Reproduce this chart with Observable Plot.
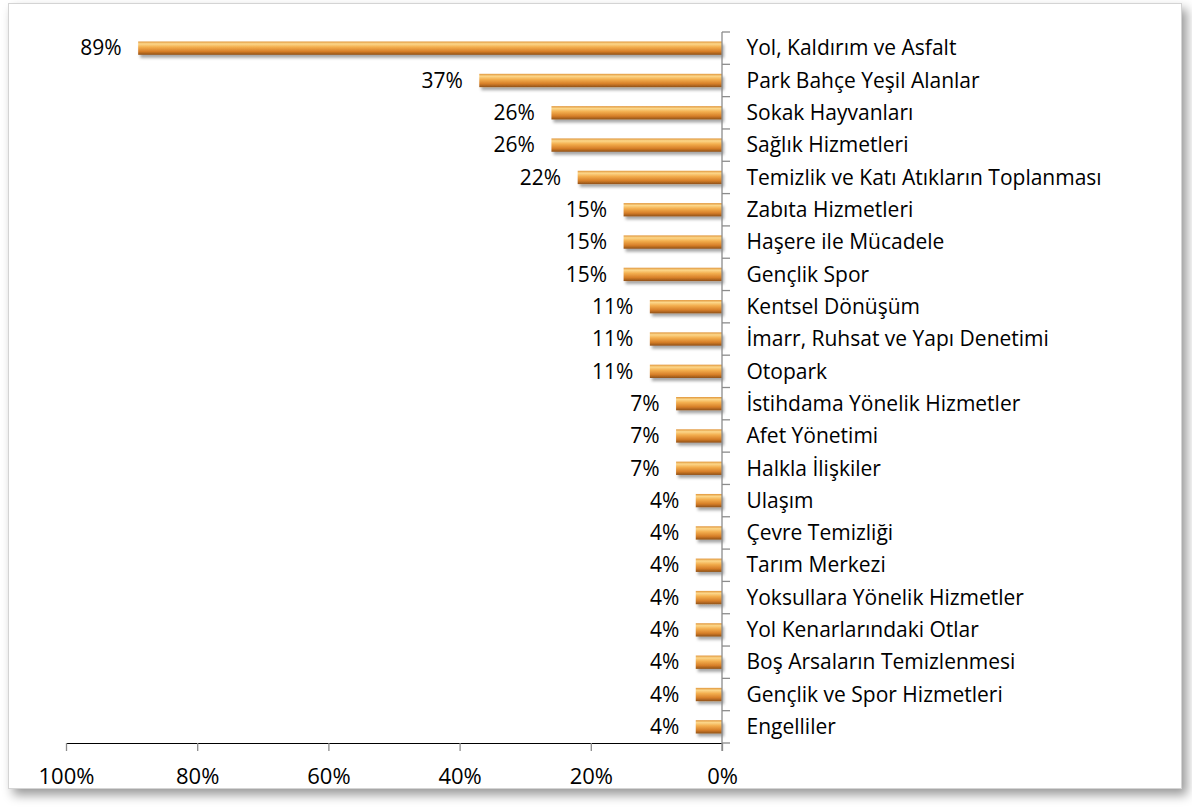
<!DOCTYPE html>
<html>
<head>
<meta charset="utf-8">
<script src="https://cdn.jsdelivr.net/npm/d3@7"></script>
<script src="https://cdn.jsdelivr.net/npm/@observablehq/plot@0.6"></script>
<style>
  html, body { margin: 0; padding: 0; background: #ffffff; }
  body { width: 1192px; height: 807px; position: relative; overflow: hidden; }
  #frame { position: absolute; left: 8px; top: 3px; width: 1172px; height: 784px;
           border: 1px solid #d4d4d4; background: #fff;
           box-shadow: 5px 6px 10px rgba(0,0,0,0.4); }
  #chart { position: absolute; left: 0; top: 0; }
</style>
</head>
<body>
<div id="frame"></div>
<div id="chart"></div>
<script>
const categories = [
  "Yol, Kaldırım ve Asfalt",
  "Park Bahçe Yeşil Alanlar",
  "Sokak Hayvanları",
  "Sağlık Hizmetleri",
  "Temizlik ve Katı Atıkların Toplanması",
  "Zabıta Hizmetleri",
  "Haşere ile Mücadele",
  "Gençlik Spor",
  "Kentsel Dönüşüm",
  "İmarr, Ruhsat ve Yapı Denetimi",
  "Otopark",
  "İstihdama Yönelik Hizmetler",
  "Afet Yönetimi",
  "Halkla İlişkiler",
  "Ulaşım",
  "Çevre Temizliği",
  "Tarım Merkezi",
  "Yoksullara Yönelik Hizmetler",
  "Yol Kenarlarındaki Otlar",
  "Boş Arsaların Temizlenmesi",
  "Gençlik ve Spor Hizmetleri",
  "Engelliler"
];
const values = [89, 37, 26, 26, 22, 15, 15, 15, 11, 11, 11, 7, 7, 7, 4, 4, 4, 4, 4, 4, 4, 4];
const xTicks = [0, 20, 40, 60, 80, 100];

const data = categories.map((c, i) => ({category: c, value: values[i]}));

const W = 1192, H = 807;
const mTop = 32, mBottom = 64, mLeft = 66, mRight = 470;

// vertical axis line and category boundary tick marks on its right side
function boundaryTicks(index, scales, vals, dims) {
  const g = d3.create("svg:g");
  const n = categories.length;
  const step = (dims.height - dims.marginTop - dims.marginBottom) / n;
  const x0 = scales.x(0);
  g.append("line")
    .attr("x1", x0).attr("x2", x0)
    .attr("y1", dims.marginTop).attr("y2", dims.height - dims.marginBottom + 8)
    .attr("stroke", "#8c8c8c").attr("stroke-width", 1.3);
  for (let i = 0; i <= n; i++) {
    const y = dims.marginTop + i * step;
    g.append("line")
      .attr("x1", x0).attr("x2", x0 + 8)
      .attr("y1", y).attr("y2", y)
      .attr("stroke", "#8c8c8c").attr("stroke-width", 1.3);
  }
  return g.node();
}

const chart = Plot.plot({
  width: W,
  height: H,
  marginTop: mTop,
  marginBottom: mBottom,
  marginLeft: mLeft,
  marginRight: mRight,
  style: {fontFamily: "'Open Sans', 'Noto Sans', sans-serif", fontSize: "21px", color: "#000", background: "transparent"},
  x: {domain: [100, 0], ticks: xTicks, tickFormat: d => d + "%", tickSize: 8, tickPadding: 17, line: true, label: null},
  y: {domain: categories, padding: 0, round: false, axis: "right", tickSize: 0, tickPadding: 24, label: null},
  marks: [
    Plot.barX(data, {
      x1: 0, x2: "value", y: "category",
      insetTop: 9.5, insetBottom: 9.5,
      fill: "url(#barGrad)"
    }),
    Plot.text(data, {
      x: "value", y: "category", text: d => d.value + "%",
      textAnchor: "end", dx: -17, fill: "#000", fontSize: 21
    }),
    boundaryTicks
  ]
});

// gradient + shadow definitions
const svg = d3.select(chart);
const defs = svg.insert("defs", ":first-child");
const grad = defs.append("linearGradient")
  .attr("id", "barGrad").attr("x1", 0).attr("y1", 0).attr("x2", 0).attr("y2", 1);
[[0, "#e0953a"], [0.18, "#fcd78a"], [0.42, "#f3ae4e"], [0.75, "#d67e28"], [1, "#8f5118"]]
  .forEach(([o, c]) => grad.append("stop").attr("offset", o).attr("stop-color", c));
const flt = defs.append("filter").attr("id", "barShadow")
  .attr("x", "-10%").attr("y", "-40%").attr("width", "130%").attr("height", "220%");
flt.append("feDropShadow").attr("dx", 2).attr("dy", 3).attr("stdDeviation", 1.8)
  .attr("flood-color", "#000").attr("flood-opacity", 0.35);
svg.selectAll("rect").filter(function() { return this.getAttribute("fill") === "url(#barGrad)" || (this.parentNode && this.parentNode.getAttribute("fill") === "url(#barGrad)"); })
  .attr("filter", "url(#barShadow)");
svg.selectAll("[aria-label='x-axis tick'] path, [aria-label='x-axis line'], [aria-label='x-axis'] path, [aria-label='x-axis'] line")
  .attr("stroke", "#8c8c8c").attr("stroke-width", 1.3);
svg.selectAll("[aria-label='x-axis tick label'] text, [aria-label='x-axis'] text")
  .attr("font-size", "22px");

document.getElementById("chart").appendChild(chart);
</script>
</body>
</html>
